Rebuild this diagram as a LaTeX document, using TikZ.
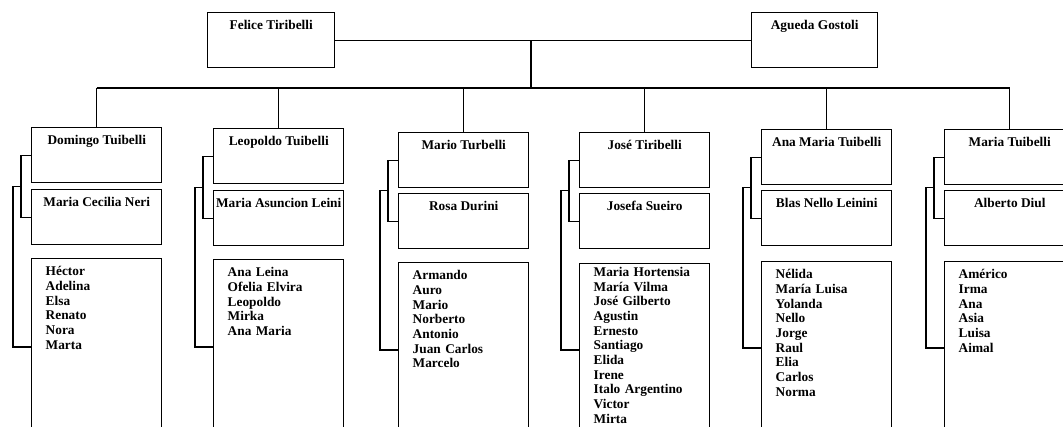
\documentclass[tikz,border=0pt]{standalone}
\usepackage{fontspec}
\setmainfont{Liberation Serif}
\usetikzlibrary{positioning,calc}

\begin{document}
\begin{tikzpicture}[
    x=0.75pt, y=-0.75pt,
    person/.style={rectangle, draw, line width=1.1pt, anchor=north west, minimum width=97.5pt, inner xsep=1pt, inner ysep=5pt, text height=7.5pt, text depth=23.75pt, align=center, font=\bfseries\fontsize{10}{11}\selectfont},
    kids/.style={rectangle, draw, line width=1.1pt, anchor=north west, text width=76.5pt, inner xsep=10.5pt, inner ysep=4pt, text height=8.75pt, text depth=110pt, align=left, font=\bfseries\fontsize{10}{11}\selectfont},
    link/.style={line width=1.1pt}
  ]
    \useasboundingbox (0,0) rectangle (1063,426);
    \fill[white] (0,0) rectangle (1063,426);
    \clip (0,0) rectangle (1063,426);

    % parents
    \node[person, minimum width=95.25pt] (felice) at (207,12) {Felice Tiribelli};
    \node[person, minimum width=94.5pt] (agueda) at (751,12) {Agueda Gostoli};
    \coordinate (split) at (531,88);

    % children with spouses
    \node[person] (domingo) at (31,127) {Domingo Tuibelli};
    \node[person] (domingo-sp) at (31,189) {Maria Cecilia Neri};
    \node[kids] (domingo-ch) at (31,258) {Héctor\\Adelina\\Elsa\\Renato\\Nora\\Marta};

    \node[person] (leopoldo) at (213,128) {Leopoldo Tuibelli};
    \node[person] (leopoldo-sp) at (213,190) {Maria Asuncion Leini};
    \node[kids] (leopoldo-ch) at (213,259) {Ana Leina\\Ofelia Elvira\\Leopoldo\\Mirka\\Ana Maria};

    \node[person] (mario) at (398,132) {Mario Turbelli};
    \node[person] (mario-sp) at (398,193) {Rosa Durini};
    \node[kids] (mario-ch) at (398,262) {Armando\\Auro\\Mario\\Norberto\\Antonio\\Juan Carlos\\Marcelo};

    \node[person] (jose) at (579,132) {José Tiribelli};
    \node[person] (jose-sp) at (579,193) {Josefa Sueiro};
    \node[kids, text height=5.5pt, text depth=113pt] (jose-ch) at (579,263) {Maria Hortensia\\María Vilma\\José Gilberto\\Agustin\\Ernesto\\Santiago\\Elida\\Irene\\Italo Argentino\\Victor\\Mirta};

    \node[person] (anamaria) at (761,129) {Ana Maria Tuibelli};
    \node[person] (anamaria-sp) at (761,190) {Blas Nello Leinini};
    \node[kids] (anamaria-ch) at (761,261) {Nélida\\María Luisa\\Yolanda\\Nello\\Jorge\\Raul\\Elia\\Carlos\\Norma};

    \node[person] (maria) at (944,129) {Maria Tuibelli};
    \node[person] (maria-sp) at (944,190) {Alberto Diul};
    \node[kids] (maria-ch) at (944,261) {Américo\\Irma\\Ana\\Asia\\Luisa\\Aimal};

    % parents to children
    \draw[link] (felice.east) -- (felice.east -| agueda.west);
    \draw[link] (split |- felice.east) -- (split);
    \draw[link] (domingo.north |- split) -- (maria.north |- split);
    \draw[link] (domingo.north |- split) -- (domingo.north);
    \draw[link] (leopoldo.north |- split) -- (leopoldo.north);
    \draw[link] (mario.north |- split) -- (mario.north);
    \draw[link] (jose.north |- split) -- (jose.north);
    \draw[link] (anamaria.north |- split) -- (anamaria.north);
    \draw[link] (maria.north |- split) -- (maria.north);

    % couples and their children
    \draw[link] (domingo.west) -- ++(-10,0) |- (domingo-sp.west);
    \draw[link] ($(domingo.west)!.5!(domingo-sp.west)+(-10,0)$) -- ++(-8,0) |- ($(domingo-ch.north west)+(0,89)$);
    \draw[link] (leopoldo.west) -- ++(-10,0) |- (leopoldo-sp.west);
    \draw[link] ($(leopoldo.west)!.5!(leopoldo-sp.west)+(-10,0)$) -- ++(-8,0) |- ($(leopoldo-ch.north west)+(0,88)$);
    \draw[link] (mario.west) -- ++(-10,0) |- (mario-sp.west);
    \draw[link] ($(mario.west)!.5!(mario-sp.west)+(-10,0)$) -- ++(-8,0) |- ($(mario-ch.north west)+(0,88)$);
    \draw[link] (jose.west) -- ++(-10,0) |- (jose-sp.west);
    \draw[link] ($(jose.west)!.5!(jose-sp.west)+(-10,0)$) -- ++(-8,0) |- ($(jose-ch.north west)+(0,87)$);
    \draw[link] (anamaria.west) -- ++(-10,0) |- (anamaria-sp.west);
    \draw[link] ($(anamaria.west)!.5!(anamaria-sp.west)+(-10,0)$) -- ++(-8,0) |- ($(anamaria-ch.north west)+(0,87)$);
    \draw[link] (maria.west) -- ++(-10,0) |- (maria-sp.west);
    \draw[link] ($(maria.west)!.5!(maria-sp.west)+(-10,0)$) -- ++(-8,0) |- ($(maria-ch.north west)+(0,87)$);
  \end{tikzpicture}
\end{document}
